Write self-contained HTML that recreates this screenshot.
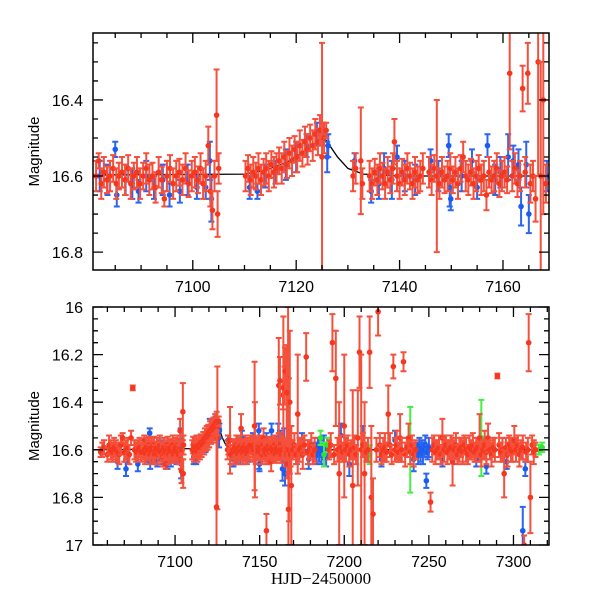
<!DOCTYPE html>
<html><head><meta charset="utf-8"><style>
html,body{margin:0;padding:0;background:#fff;width:600px;height:600px;overflow:hidden}
svg text{font-family:"Liberation Sans",sans-serif;font-size:16px;fill:#000}
</style></head><body>
<svg id="chart" width="600" height="600" viewBox="0 0 600 600" xmlns="http://www.w3.org/2000/svg"></svg>
<script>
// ---- data ----
const topRed = [[7081.3,16.60,.04],[7081.8,16.56,.02],[7082.3,16.62,.04],[7082.8,16.59,.04],[7083.4,16.61,.035],[7084.0,16.60,.04],[7084.6,16.58,.035],[7085.2,16.62,.04],[7085.7,16.60,.035],[7086.3,16.59,.04],[7086.9,16.61,.04],[7087.5,16.58,.035],[7088.0,16.62,.04],[7088.6,16.60,.035],[7089.2,16.59,.04],[7089.8,16.62,.04],[7090.4,16.60,.035],[7091.0,16.58,.04],[7091.6,16.61,.04],[7092.2,16.60,.035],[7092.8,16.63,.04],[7093.4,16.59,.04],[7094.0,16.61,.035],[7094.5,16.66,.02],[7095.0,16.60,.04],[7095.6,16.58,.035],[7096.2,16.62,.04],[7096.8,16.60,.04],[7097.4,16.59,.035],[7098.0,16.61,.04],[7098.6,16.58,.04],[7099.2,16.62,.035],[7099.8,16.60,.04],[7100.4,16.59,.04],[7101.0,16.61,.035],[7101.5,16.58,.04],[7102.0,16.62,.04],[7102.5,16.60,.04],[7103.0,16.52,.05],[7103.4,16.64,.04],[7103.8,16.69,.05],[7104.2,16.60,.04],[7104.6,16.44,.12],[7104.8,16.70,.06],[7105.0,16.58,.04],
[7110.2,16.60,.04],[7110.7,16.58,.035],[7111.2,16.61,.04],[7111.7,16.59,.04],[7112.2,16.60,.035],[7112.7,16.58,.04],[7113.2,16.61,.04],[7113.7,16.59,.035],[7114.2,16.58,.04],[7114.7,16.60,.04],[7115.2,16.57,.035],[7115.7,16.59,.04],[7116.2,16.58,.04],[7116.7,16.56,.035],[7117.2,16.58,.04],[7117.7,16.55,.04],[7118.2,16.57,.035],[7118.7,16.54,.04],[7119.2,16.56,.04],[7119.7,16.53,.035],[7120.2,16.55,.04],[7120.7,16.52,.04],[7121.2,16.54,.035],[7121.7,16.51,.04],[7122.2,16.53,.04],[7122.7,16.50,.035],[7123.2,16.52,.04],[7123.7,16.49,.04],[7124.2,16.51,.035],[7124.6,16.48,.04],[7125.0,16.55,.30],[7125.4,16.50,.04],[7125.8,16.48,.02],
[7131.0,16.60,.04],[7131.5,16.58,.04],[7132.5,16.56,.14],[7132.8,16.62,.04],
[7134.2,16.60,.04],[7134.7,16.62,.04],[7135.2,16.59,.035],[7135.7,16.61,.04],[7136.2,16.58,.04],[7136.7,16.60,.035],[7137.2,16.62,.04],[7137.7,16.59,.04],[7138.2,16.61,.035],[7138.7,16.58,.04],[7139.0,16.51,.06],[7139.5,16.60,.04],[7140.0,16.62,.04],[7140.5,16.59,.035],[7141.0,16.61,.04],[7141.5,16.58,.04],[7142.0,16.60,.035],[7142.5,16.62,.04],[7143.0,16.59,.04],[7143.5,16.61,.035],[7144.0,16.60,.04],[7144.5,16.58,.04],
[7145.7,16.59,.04],[7146.2,16.61,.04],[7146.7,16.58,.035],[7147.2,16.60,.20],[7147.7,16.62,.04],[7148.2,16.59,.04],[7148.7,16.61,.035],[7149.3,16.60,.04],[7149.8,16.58,.04],[7150.3,16.61,.035],[7150.8,16.59,.04],[7151.3,16.62,.04],[7151.8,16.58,.035],[7152.3,16.55,.04],[7152.8,16.60,.04],[7153.3,16.61,.04],[7153.8,16.59,.035],[7154.3,16.62,.04],[7154.8,16.60,.04],[7155.3,16.58,.035],[7155.8,16.61,.04],[7156.3,16.60,.04],[7156.8,16.65,.04],[7157.3,16.59,.04],[7157.8,16.61,.035],[7158.3,16.60,.04],[7158.8,16.58,.04],[7159.3,16.62,.035],[7159.8,16.60,.04],[7160.3,16.59,.04],[7160.8,16.61,.035],[7161.3,16.33,.2],[7161.8,16.60,.04],[7162.3,16.58,.04],[7162.8,16.62,.035],[7163.3,16.60,.04],[7163.8,16.37,.06],[7164.3,16.59,.04],[7164.8,16.33,.08],[7165.3,16.62,.05],[7165.8,16.60,.04],[7166.3,16.66,.06],[7166.8,16.30,.3],[7167.3,16.60,.3],[7167.8,16.40,.3],[7168.3,16.62,.05]];
const topBlue = [[7082.0,16.60,.04],[7083.5,16.61,.04],[7085.0,16.53,.02],[7085.3,16.65,.03],[7087,16.61,.04],[7088.3,16.62,.04],[7089.5,16.64,.03],[7091,16.60,.04],[7092.5,16.63,.03],[7094.2,16.61,.04],[7095.5,16.65,.03],[7097.5,16.64,.03],[7099,16.61,.04],[7100.8,16.63,.03],[7102.5,16.63,.03],[7103.3,16.56,.05],[7103.6,16.66,.06],[7111.0,16.63,.03],[7112.5,16.64,.02],[7114,16.60,.03],[7116,16.59,.03],[7118,16.57,.04],[7120,16.55,.04],[7122,16.52,.03],[7124,16.49,.03],[7125.3,16.49,.03],[7126.0,16.55,.04],[7126.2,16.52,.03],[7131.3,16.56,.02],[7134.5,16.64,.03],[7136,16.62,.04],[7137,16.58,.04],[7138.5,16.61,.05],[7139.5,16.55,.03],[7141,16.60,.04],[7143,16.61,.04],[7146,16.56,.03],[7147.5,16.60,.04],[7149.5,16.52,.03],[7149.7,16.63,.05],[7149.9,16.66,.03],[7152,16.60,.04],[7154,16.56,.03],[7155,16.63,.03],[7157,16.52,.03],[7158.5,16.61,.04],[7159.5,16.59,.04],[7161,16.55,.06],[7162,16.56,.04],[7163,16.57,.04],[7163.5,16.68,.05],[7164.5,16.57,.06],[7165.0,16.70,.05],[7168.5,16.60,.04]];
const extraRed = [[7056,16.61,.02],[7057,16.60,.03],[7058,16.59,.03],[7060,16.62,.03],[7061,16.58,.04],[7062,16.60,.04],[7063,16.61,.04],[7064,16.59,.04],[7065,16.60,.04],[7066,16.61,.04],[7067,16.62,.04],[7068,16.58,.04],[7069,16.55,.02],[7070,16.61,.04],[7071,16.60,.04],[7072,16.59,.04],[7073,16.62,.04],[7074,16.55,.03],[7075,16.34,.01],[7076,16.60,.04],[7077,16.61,.04],[7078,16.60,.04],[7079,16.59,.04],[7080,16.61,.04],
[7124.5,16.84,.3],[7147,16.50,.27],[7154,16.94,.07],[7162,16.31,.1],[7164,16.34,.3],[7165,16.27,.1],[7166,16.36,.2],[7167,16.85,.15],[7168.7,16.75,.25],
[7169.5,16.60,.04],[7170.5,16.58,.05],[7171.5,16.62,.04],[7172.5,16.45,.25],[7173.5,16.60,.05],[7174.5,16.59,.04],[7175.5,16.62,.06],[7176.5,16.58,.04],[7177.5,16.21,.1],[7178.5,16.61,.05],[7179.5,16.60,.04],[7180.5,16.58,.05],[7181.5,16.62,.04],[7182.5,16.60,.05],
[7191,16.60,.04],[7192,16.58,.05],[7193,16.15,.12],[7194,16.62,.04],[7195,16.30,.2],[7196,16.60,.05],[7197,16.70,.3],[7198,16.59,.05],[7199,16.61,.04],[7200,16.50,.3],[7201,16.60,.05],[7202,16.58,.04],[7203,16.62,.05],[7204,16.60,.04],[7205,16.75,.4],[7206,16.59,.05],[7207,16.62,.04],[7208,16.55,.2],[7209,16.19,.15],[7210,16.60,.4],[7211,16.58,.05],[7212,16.70,.3],[7213,16.61,.04],[7214,16.60,.05],[7215,16.19,.15],[7216,16.80,.3],[7217,16.87,.15],
[7219,16.60,.05],[7220,16.02,.1],[7221,16.58,.05],[7222,16.62,.04],[7223,16.60,.05],[7224,16.59,.06],[7225,16.61,.04],[7226,16.45,.12],[7227,16.58,.05],[7228,16.62,.04],[7229,16.25,.05],[7230,16.60,.05],[7231,16.58,.06],[7232,16.61,.04],[7233,16.55,.1],[7234,16.60,.05],[7235,16.23,.04],[7236,16.62,.05],[7237,16.59,.04],[7238,16.55,.06],[7239,16.61,.05],[7240,16.58,.04],[7241,16.62,.05],[7242,16.60,.04],
[7251,16.82,.04],[7252,16.60,.05],[7253,16.58,.04],[7254,16.61,.05],[7255,16.60,.04],[7256,16.59,.05],[7257,16.62,.04],[7258,16.55,.08],[7259,16.60,.05],[7260,16.58,.04],[7261,16.61,.05],[7262,16.60,.04],[7263,16.59,.05],[7264,16.65,.1],[7265,16.60,.04],[7266,16.58,.05],[7267,16.62,.04],[7268,16.60,.05],[7269,16.59,.04],[7270,16.61,.05],[7271,16.58,.04],[7272,16.60,.05],[7273,16.62,.04],[7274,16.59,.05],[7275,16.60,.04],[7276,16.58,.05],[7277,16.61,.04],[7278,16.60,.05],[7279,16.59,.04],[7280,16.55,.1],[7281,16.62,.05],[7282,16.60,.04],[7283,16.58,.06],[7284,16.61,.05],[7285,16.55,.06],[7286,16.60,.04],[7287,16.62,.05],[7288,16.59,.04],[7289,16.60,.05],[7290.5,16.29,.01],[7291.5,16.58,.05],[7292.5,16.61,.04],[7293.5,16.60,.05],[7294.5,16.70,.1],[7295.5,16.59,.04],[7296.5,16.62,.05],[7297.5,16.58,.04],[7298.5,16.60,.05],[7299.5,16.61,.04],[7300.5,16.56,.06],[7301.5,16.60,.05],[7302.5,16.58,.04],[7303.5,16.62,.05],[7304.5,16.60,.04],[7305.5,16.59,.05],[7306.3,17.00,.04],[7307.5,16.61,.04],[7308.5,16.60,.05],[7309,16.15,.12],[7310,16.80,.15],[7311,16.58,.04],[7312,16.61,.05],[7313,16.60,.03]];
const extraBlue = [[7066,16.65,.03],[7071,16.68,.03],[7072,16.63,.03],[7078,16.66,.03],[7120.5,16.50,.03],
[7172,16.62,.04],[7175,16.56,.03],[7179,16.64,.04],[7183,16.60,.03],[7183.7,16.62,.04],[7184.4,16.58,.03],[7185.1,16.61,.04],[7185.8,16.59,.03],[7186.5,16.62,.04],[7187.2,16.60,.03],[7187.9,16.58,.04],[7188.6,16.61,.03],[7189.3,16.63,.04],[7190,16.60,.03],
[7198,16.54,.05],[7203,16.66,.05],[7211,16.55,.05],[7222,16.64,.03],[7230,16.56,.04],[7241,16.64,.05],
[7243,16.60,.03],[7243.7,16.62,.04],[7244.4,16.58,.03],[7245.1,16.61,.04],[7245.8,16.59,.03],[7246.5,16.62,.04],[7247.2,16.60,.03],[7247.9,16.58,.04],[7248.5,16.73,.03],[7249.2,16.61,.03],[7250,16.59,.04],
[7258,16.64,.03],[7265,16.63,.03],[7278,16.64,.03],[7284,16.67,.03],[7296,16.65,.03],[7305.5,16.94,.1],[7307,16.68,.03]];
const greenPts = [[7186,16.55,.03],[7188,16.62,.05],[7190,16.58,.03],[7215,16.62,.04],[7239,16.60,.18],[7281,16.55,.16],[7315,16.60,.02],[7317,16.59,.02]];
const modelX = [7050,7110,7114,7118,7121,7123,7124.5,7125.5,7126.5,7128,7130,7133,7140,7320];
const modelMag = [16.60,16.595,16.585,16.565,16.54,16.52,16.505,16.50,16.52,16.55,16.58,16.595,16.60,16.60];
const topXTicks = ["7100","7120","7140","7160"];
const topYTicks = ["16.4","16.6","16.8"];
const botXTicks = ["7100","7150","7200","7250","7300"];
const botYTicks = ["16","16.2","16.4","16.6","16.8","17"];

const NS="http://www.w3.org/2000/svg";
const svg=document.getElementById('chart');
function mk(tag,attrs,parent){const e=document.createElementNS(NS,tag);for(const k in attrs)e.setAttribute(k,attrs[k]);(parent||svg).appendChild(e);return e;}

const panels=[
 {name:'top',L:93,R:549,T:33,B:270,x0:7080.7,x1:7168.9,y0:16.224,y1:16.847,xMaj:20,xMin:5,yMaj:0.2,yMin:0.05,xt:topXTicks,yt:topYTicks,
  red:topRed,blue:topBlue,green:[]},
 {name:'bottom',L:93,R:549,T:307,B:545,x0:7051.5,x1:7321,y0:16,y1:17,xMaj:50,xMin:10,yMaj:0.2,yMin:0.05,xt:botXTicks,yt:botYTicks,
  red:topRed.concat(extraRed),blue:topBlue.concat(extraBlue),green:greenPts}
];

panels.forEach((p,pi)=>{
 const sx=v=>p.L+(v-p.x0)/(p.x1-p.x0)*(p.R-p.L);
 const sy=v=>p.T+(v-p.y0)/(p.y1-p.y0)*(p.B-p.T);
 const g=mk('g',{});
 
 
 const cp=mk('clipPath',{id:'clip'+pi},g);
 mk('rect',{x:p.L,y:p.T,width:p.R-p.L,height:p.B-p.T},cp);
 const plot=mk('g',{'clip-path':'url(#clip'+pi+')'},g);
 let d='';modelX.forEach((x,i)=>{d+=(i?'L':'M')+sx(x).toFixed(1)+' '+sy(modelMag[i]).toFixed(1);});
 const mc=mk('path',{d:d,fill:'none',stroke:'#000','stroke-width':1.3},plot);
 
 
 function series(arr,col,errCol,nm){
  const sg=mk('g',{},plot);
  
  
  arr.forEach(pt=>{
   const x=sx(pt[0]),y=sy(pt[1]),a=sy(pt[1]-pt[2]),b=sy(pt[1]+pt[2]);
   mk('path',{d:`M${x} ${a}L${x} ${b}M${x-3} ${a}L${x+3} ${a}M${x-3} ${b}L${x+3} ${b}`,stroke:errCol,'stroke-width':2,fill:'none'},sg);
   const c=mk('circle',{cx:x,cy:y,r:2.8,fill:col},sg);
   
   
  });
 }
 series(p.blue,'#1a5cf0','#2a66f0','blue');
 series(p.green,'#33e033','#44ee44','green');
 series(p.red,'#f5371f','#f5503c','red');
 const fr=mk('rect',{x:p.L,y:p.T,width:p.R-p.L,height:p.B-p.T,fill:'none',stroke:'#000','stroke-width':1.5},g);
 
 
 let td='';
 for(let v=Math.ceil(p.x0/p.xMin)*p.xMin;v<=p.x1;v+=p.xMin){
  const x=sx(v),len=(Math.abs(v/p.xMaj-Math.round(v/p.xMaj))<1e-6)?10:5;
  td+=`M${x} ${p.B}L${x} ${p.B-len}M${x} ${p.T}L${x} ${p.T+len}`;
 }
 for(let k=Math.ceil(p.y0/p.yMin-1e-6);k*p.yMin<=p.y1+1e-6;k++){
  const v=k*p.yMin,y=sy(v),len=(Math.abs(v/p.yMaj-Math.round(v/p.yMaj))<1e-6)?10:5;
  td+=`M${p.L} ${y}L${p.L+len} ${y}M${p.R} ${y}L${p.R-len} ${y}`;
 }
 mk('path',{d:td,stroke:'#000','stroke-width':1.3,fill:'none'},g);
 p.xt.forEach(t=>{
  const e=mk('text',{x:sx(+t),y:p.B+22,'text-anchor':'middle'},g);e.textContent=t;
  
  
 });
 p.yt.forEach(t=>{
  const e=mk('text',{x:p.L-10,y:sy(+t)+6,'text-anchor':'end'},g);e.textContent=t;
  
  
 });
 const yl=mk('text',{x:0,y:0,transform:`translate(39 ${(p.T+p.B)/2}) rotate(-90)`,'text-anchor':'middle',style:'font-size:15px'},g);
 yl.textContent='Magnitude';
 
 
});
const xl=mk('text',{x:321,y:584,'text-anchor':'middle',style:'font-family:"Liberation Serif",serif;font-size:17px'});
xl.textContent='HJD\u22122450000';


</script>
</body></html>
